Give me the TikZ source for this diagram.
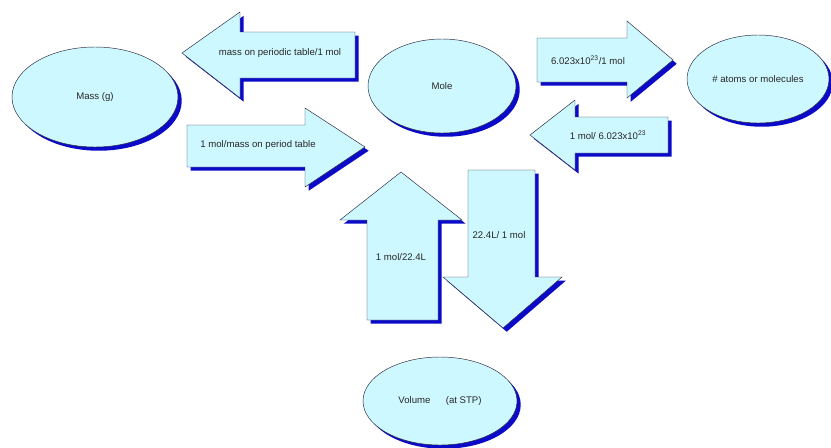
\documentclass[tikz,border=0pt]{standalone}
\usepackage{fontspec}
\setmainfont{Liberation Sans}
\usetikzlibrary{shapes.geometric,shadows}
\definecolor{lightfill}{RGB}{206,248,255}
\definecolor{shadowblue}{RGB}{10,10,200}
\definecolor{edge}{RGB}{40,40,60}
\tikzset{
  shp/.style={fill=lightfill, draw=edge, line width=0.35pt, line join=miter,
    drop shadow={shadow xshift=2.8pt, shadow yshift=-2.8pt, fill=shadowblue, opacity=1}},
  ell/.style={shp, ellipse, inner sep=0pt},
  lbl/.style={font=\fontsize{7.2}{8.5}\selectfont, text=black!85, inner sep=0pt}
}
\begin{document}
\begin{tikzpicture}[x=0.75pt,y=-0.75pt]
\useasboundingbox (0,0) rectangle (831,447);
% ellipses
\node[ell, minimum width=124.5pt, minimum height=75pt, lbl] (mass) at (95,97) {Mass (g)};
\node[ell, minimum width=111pt, minimum height=70.5pt, lbl] (mole) at (442,86) {Mole};
\node[ell, minimum width=106.5pt, minimum height=66pt, lbl] (atoms) at (758,79) {\# atoms or molecules};
\node[ell, minimum width=115.5pt, minimum height=66pt, lbl] (vol) at (440,401) {Volume\hspace{1.6em}(at STP)};
% arrows
\path[shp] (182,53) -- (240,12) -- (240,32) -- (355,32) -- (355,78) -- (240,78) -- (240,98) -- cycle;
\node[lbl] (a1) at (280,53) {mass on periodic table/1 mol};
\path[shp] (187,125) -- (305,125) -- (305,108) -- (365,147) -- (305,187) -- (305,167) -- (187,167) -- cycle;
\node[lbl] (a2) at (258,145) {1 mol/mass on period table};
\path[shp] (537,38) -- (627,38) -- (627,21) -- (673,60) -- (627,98) -- (627,82) -- (537,82) -- cycle;
\node[lbl] (a3) at (588,60) {6.023x10\textsuperscript{23}/1 mol};
\path[shp] (530,135) -- (575,100) -- (575,117) -- (668,117) -- (668,153) -- (575,153) -- (575,170) -- cycle;
\node[lbl] (a4) at (608,135) {1 mol/ 6.023x10\textsuperscript{23}};
\path[shp] (401,172) -- (462,220) -- (438,220) -- (438,320) -- (367,320) -- (367,220) -- (340,220) -- cycle;
\node[lbl] (a5) at (401,257) {1 mol/22.4L};
\path[shp] (468,170) -- (535,170) -- (535,277) -- (562,277) -- (503,328) -- (443,277) -- (468,277) -- cycle;
\node[lbl] (a6) at (499,235) {22.4L/ 1 mol};
\end{tikzpicture}
\end{document}
